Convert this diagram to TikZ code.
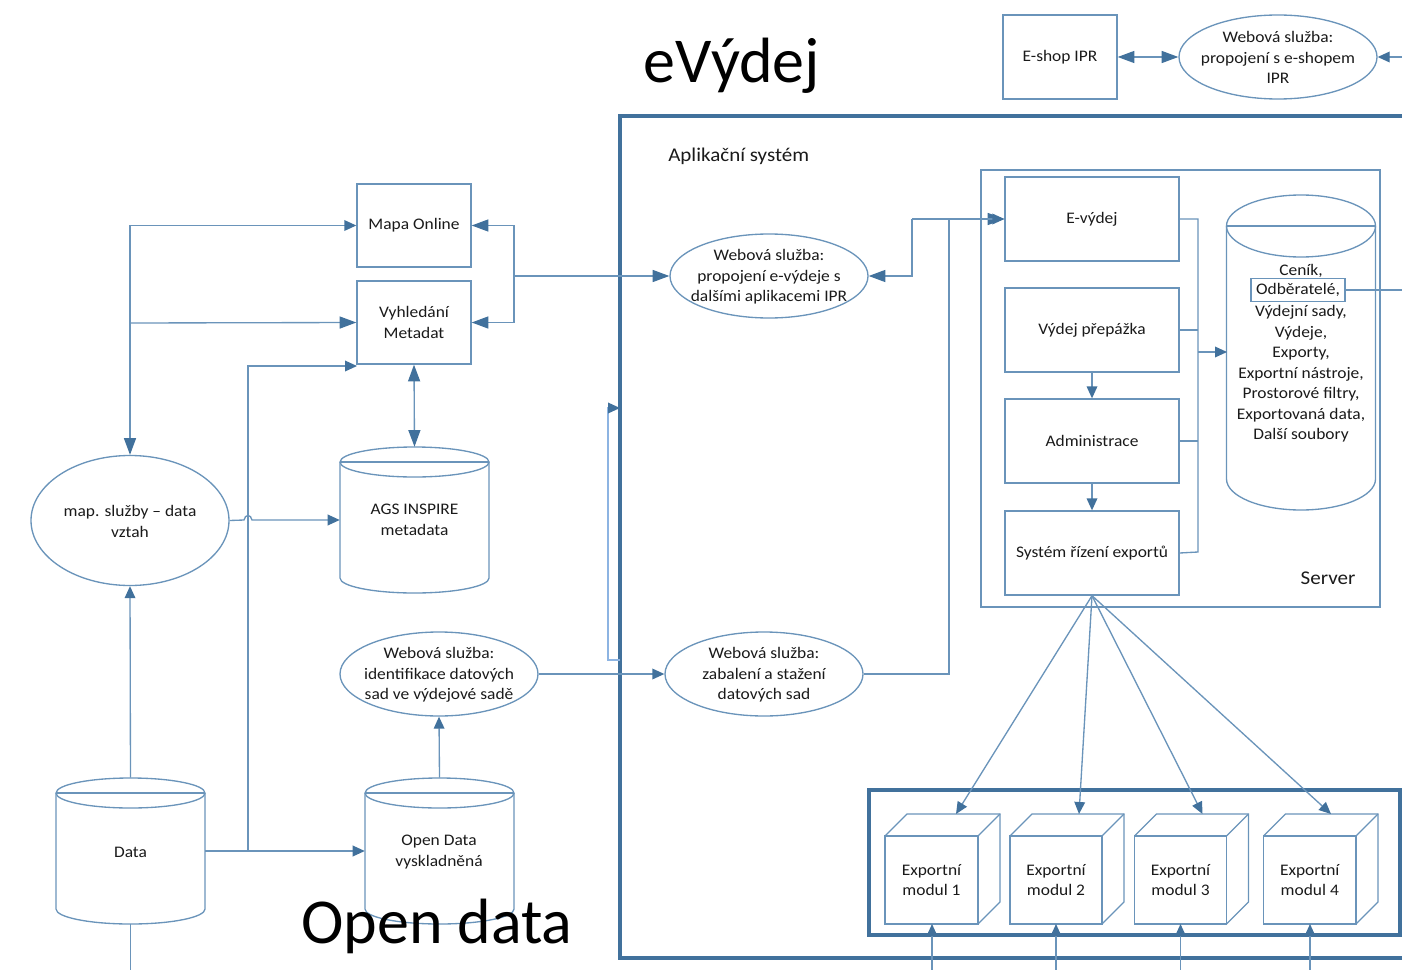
\documentclass[tikz,border=0pt]{standalone}
\usepackage{fontspec}
\setmainfont{Carlito}[FakeStretch=1.08]
\newfontfamily\headfont{Carlito}
\usetikzlibrary{arrows.meta,shapes.geometric,calc}
\definecolor{ln}{HTML}{6A94BA}
\definecolor{dk}{HTML}{41719C}
\definecolor{lt}{HTML}{8DB4E2}
\definecolor{tx}{HTML}{1A1A1A}
\tikzset{
  sz/.style 2 args={minimum width={(#1)*0.75pt},minimum height={(#2)*0.75pt}},
  box/.style={draw=ln,line width=1pt,inner sep=0pt,align=center,font=\fs,text=tx},
  oval/.style={ellipse,draw=ln,line width=1pt,inner sep=0pt},
  lbl/.style={inner sep=0pt,align=center,font=\fs,text=tx},
  conn/.style={ln,line width=1pt},
  heavy/.style={dk,line width=3.1pt},
  tip/.style={-{Triangle[length=9pt,width=8pt,color=dk]}},
  tipB/.style={-{Triangle[length=12.5pt,width=9pt,color=dk]}},
  tipb/.style={{Triangle[length=12.5pt,width=9pt,color=dk]}-{Triangle[length=12.5pt,width=9pt,color=dk]}},
  big/.style={inner sep=0pt,font=\headfont\fontsize{48}{52}\selectfont,text=black},
  mid/.style={lbl,font=\fontsize{14.6}{16}\selectfont},
}
\newcommand{\fs}{\fontsize{12.1}{15.4}\selectfont}
% name, cx, top, bottom, half-width, cap radius
\newcommand{\cyl}[6]{%
  \node[inner sep=0pt,sz={2*#5}{#4-#3}] (#1) at (#2,{(#3+#4)/2}) {};
  \draw[ln,line width=1pt] (#2,#3+#6) ellipse [x radius=#5,y radius=#6];
  \draw[ln,line width=1pt] (#2-#5,#3+#6) -- (#2+#5,#3+#6);
  \draw[ln,line width=1pt] (#2-#5,#3+#6) -- (#2-#5,#4-#6)
     arc[start angle=180,end angle=360,x radius=#5,y radius=-#6] -- (#2+#5,#3+#6);
}
% name, left, top (front face), width, height, text
\newcommand{\cube}[6]{%
  \node[box,sz={#4}{#5}] (#1) at (#2+#4/2,#3+#5/2) {#6};
  \draw[ln,line width=1pt] (#2,#3) -- ++(22,-22) -- ++(#4,0) -- ++(0,#5) -- ++(-22,22);
  \draw[ln,line width=1pt] (#2+#4,#3) -- ++(22,-22);
}
% name, cx, cy, width, height, text (the text sits in its own node so that it cannot widen the ellipse)
\newcommand{\ovl}[6]{%
  \node[oval,sz={#4}{#5}] (#1) at (#2,#3) {};
  \node[lbl] (#1t) at (#2,#3+0.8) {#6};
}
\begin{document}
\begin{tikzpicture}[x=0.75pt,y=-0.75pt]
\useasboundingbox (0,0) rectangle (1402,970);
\begin{scope}
\clip (0,0) rectangle (1402,970);

% frames
\draw[heavy] (1420,116) -- (620,116) -- (620,958) -- (1420,958);
\draw[heavy] (1400,790) -- (869,790) -- (869,935) -- (1400,935) -- cycle;
\node[box,sz={399}{437}] (server) at (1180.5,388.5) {};

% rectangular boxes
\node[box,sz={114}{83}] (mapa) at (414,225.5) {Mapa Online};
\node[box,sz={114}{83}] (vyhl) at (414,322.5) {Vyhledání\\Metadat};
\node[box,sz={114}{84}] (eshop) at (1060,57) {E-shop IPR};
\node[box,sz={174}{84}] (evydej) at (1092,219) {E-výdej};
\node[box,sz={174}{84}] (prepazka) at (1092,330) {Výdej přepážka};
\node[box,sz={174}{84}] (admin) at (1092,441) {Administrace};
\node[box,sz={174}{84}] (system) at (1092,553) {Systém řízení exportů};

% ovals
\ovl{wseshop}{1278}{57}{198}{84}{Webová služba:\\propojení s e-shopem\\IPR}
\ovl{wsapp}{769}{276}{198}{84}{Webová služba:\\propojení e-výdeje s\\dalšími aplikacemi IPR}
\ovl{wszab}{764}{674}{198}{84}{Webová služba:\\zabalení a stažení\\datových sad}
\ovl{wsid}{439}{674}{198}{84}{Webová služba:\\identifikace datových\\sad ve výdejové sadě}
\ovl{map}{130}{520.5}{198}{130}{map. služby – data\\vztah}

% cylinders
\cyl{ags}{414.5}{447}{593}{74.5}{15}
\cyl{data}{130.5}{778}{924}{74.5}{15}
\cyl{opend}{439.5}{778}{924}{74.5}{15}
\cyl{db}{1301}{195}{510}{74.5}{31}
\node[lbl] (agst) at (414.5,520) {AGS INSPIRE\\metadata};
\node[lbl] (datat) at (130.5,852) {Data};
\node[lbl] (opent) at (439,852) {Open Data\\vyskladněná};
\node[lbl] (dbt) at (1301,353.5) {Ceník,\\[15.4pt]Výdejní sady,\\Výdeje,\\Exporty,\\Exportní nástroje,\\Prostorové filtry,\\Exportovaná data,\\Další soubory};
\node[box,sz={94}{23}] (odb) at (1298,290) {Odběratelé,};

% cubes
\cube{m1}{885}{836}{93}{88}{Exportní\\modul 1}
\cube{m2}{1010}{836}{92}{88}{Exportní\\modul 2}
\cube{m3}{1134.5}{836}{92}{88}{Exportní\\modul 3}
\cube{m4}{1263.5}{836}{92.5}{88}{Exportní\\modul 4}

% free labels
\node[mid,anchor=west] (aplik) at (668,156) {Aplikační systém};
\node[mid] (srv) at (1328,578) {Server};
\node[big] (h1) at (732,66) {eVýdej};
\node[big] (h2) at (437,926) {Open data};

% free ends and waypoints
\coordinate (rE) at (1402,57);
\coordinate (rO) at (1402,290);
\coordinate (bD) at (130.5,970);
\coordinate (b1) at (932,970);
\coordinate (b2) at (1056,970);
\coordinate (b3) at (1180.5,970);
\coordinate (b4) at (1310,970);
\coordinate (t1) at (956,814);
\coordinate (t2) at (1079,814);
\coordinate (t3) at (1202.5,814);
\coordinate (t4) at (1331,814);
\coordinate (i1) at (932,924);
\coordinate (i2) at (1056,924);
\coordinate (i3) at (1180.5,924);
\coordinate (i4) at (1310,924);
\coordinate (lnk) at (620,408);
\coordinate (lnkb) at (620,660);

% top right
\draw[conn,tipb] (eshop.east) -- (wseshop.west);
\draw[conn,tip] (rE) -- (wseshop.east);
\draw[conn] (odb.east) -- (rO);

% left column
\draw[conn,tip] (data.north) -- (map.south);
\draw[conn] (data.south) -- (bD);
\draw[conn,tip] (130,225) |- (mapa.west);
\draw[conn,tipB] (130,323) -- (vyhl.west);
\draw[conn,tipB] (130,225) -- (map.north);
\draw[conn,tip] (data.east) -- (opend.west);
\draw[conn,tip] (248,851) -- (248,366) -- (357,366);
\draw[conn,tip] (map.east) -- (244,520) .. controls (245,514) and (251,514) .. (252,520) -- (ags.west);
\draw[conn,tipb] (vyhl.south) -- (ags.north);
\draw[conn,tip] (opend.north) -- (wsid.south);
\draw[conn,tip] (wsid.east) -- (wszab.west);

% application links
\draw[conn,tipB] (514,276) -- (wsapp.west);
\draw[conn,tipB] (514,276) |- (mapa.east);
\draw[conn,tipB] (514,276) |- (vyhl.east);
\draw[lt,line width=1pt,tip] (lnkb) -- (608,660) -- (608,408) -- (lnk);
\draw[conn,tipB] (912,219) |- (evydej.west);
\draw[conn,tipB] (912,219) |- (wsapp.east);
\draw[conn,tip] (wszab.east) -- (949,674) -- (949,219) -- (evydej.west);

% server internals
\draw[conn] (evydej.east) -- (1198,219) -- (1198,552) -- (system.east);
\draw[conn] (prepazka.east) -- (1198,330);
\draw[conn] (admin.east) -- (1198,441);
\draw[conn,tip] (1198,352) -- (1227,352);
\draw[conn,tip] (prepazka.south) -- (admin.north);
\draw[conn,tip] (admin.south) -- (system.north);

% export modules
\draw[conn,tip] (system.south) -- (t1);
\draw[conn,tip] (system.south) -- (t2);
\draw[conn,tip] (system.south) -- (t3);
\draw[conn,tip] (system.south) -- (t4);
\draw[conn,tip] (b1) -- (i1);
\draw[conn,tip] (b2) -- (i2);
\draw[conn,tip] (b3) -- (i3);
\draw[conn,tip] (b4) -- (i4);
\end{scope}
\end{tikzpicture}
\end{document}
